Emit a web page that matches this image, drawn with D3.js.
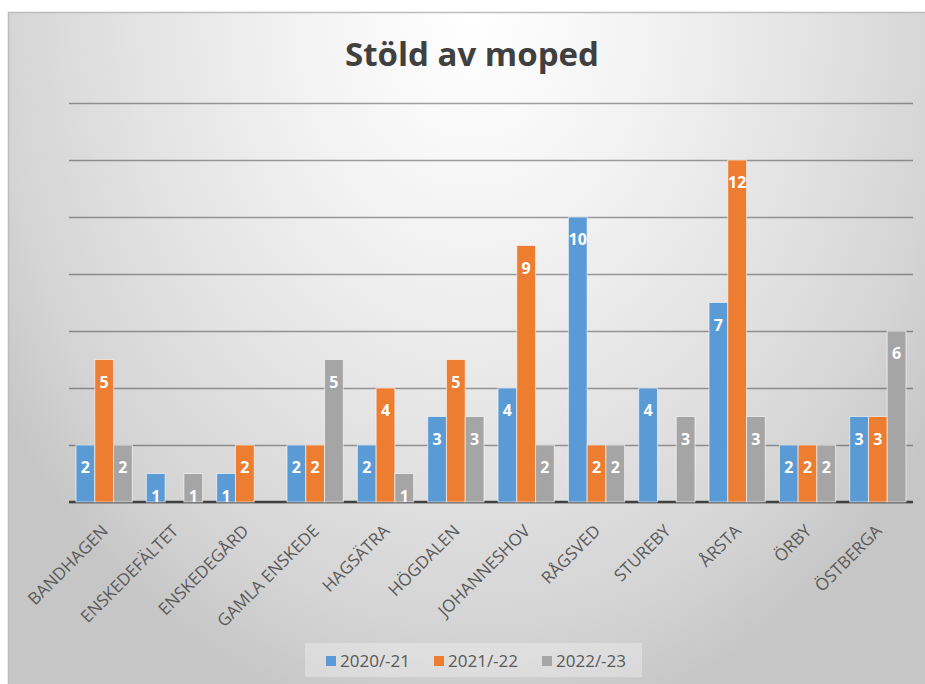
<!DOCTYPE html>
<html>
<head>
<meta charset="utf-8">
<script src="https://cdn.jsdelivr.net/npm/d3@7"></script>
<style>
  body { margin: 0; background: #fff; overflow: hidden; }
  svg { display: block; }
</style>
</head>
<body>
<div id="chart"></div>
<script>
// Data
var categories = ["BANDHAGEN", "ENSKEDEFÄLTET", "ENSKEDEGÅRD", "GAMLA ENSKEDE", "HAGSÄTRA", "HÖGDALEN",
                  "JOHANNESHOV", "RÅGSVED", "STUREBY", "ÅRSTA", "ÖRBY", "ÖSTBERGA"];
var seriesNames = ["2020/-21", "2021/-22", "2022/-23"];
var season1 = [2, 1, 1, 2, 2, 3, 4, 10, 4, 7, 2, 3];
var season2 = [5, null, 2, 2, 4, 5, 9, 2, null, 12, 2, 3];
var season3 = [2, 1, null, 5, 1, 3, 2, 2, 3, 3, 2, 6];
var yTicks = [0, 2, 4, 6, 8, 10, 12, 14];
var colors = ["#5b9bd5", "#ed7d31", "#a5a5a5"];

var seriesValues = [season1, season2, season3];

var W = 925, H = 684;
var margin = {top: 103, right: 12, bottom: 182, left: 69},
    width = W - margin.left - margin.right,
    height = H - margin.top - margin.bottom;

var svg = d3.select("#chart").append("svg")
    .attr("width", W)
    .attr("height", H);

// background gradient like the office chart style
var defs = svg.append("defs");
var grad = defs.append("radialGradient")
    .attr("id", "bg")
    .attr("gradientUnits", "userSpaceOnUse")
    .attr("cx", 0).attr("cy", 0).attr("r", 1)
    .attr("gradientTransform", "translate(472,20) scale(560,720)");
grad.append("stop").attr("offset", "0").attr("stop-color", "#ffffff");
grad.append("stop").attr("offset", "0.3").attr("stop-color", "#f3f3f3");
grad.append("stop").attr("offset", "0.6").attr("stop-color", "#e3e3e3");
grad.append("stop").attr("offset", "0.85").attr("stop-color", "#d4d4d4");
grad.append("stop").attr("offset", "1").attr("stop-color", "#c6c6c6");

svg.append("rect")
    .attr("x", 8.5).attr("y", 12.5)
    .attr("width", W + 20).attr("height", H + 20)
    .attr("fill", "url(#bg)")
    .attr("stroke", "#bdbdbd")
    .attr("stroke-width", 1.5);

// Title
svg.append("text")
    .attr("x", 472).attr("y", 66)
    .attr("text-anchor", "middle")
    .style("font-family", "'Open Sans', sans-serif")
    .style("font-weight", "bold")
    .style("font-size", "33px")
    .attr("fill", "#404040")
    .text("Stöld av moped");

var g = svg.append("g")
    .attr("transform", "translate(" + margin.left + "," + margin.top + ")");

// Scales
var x0 = d3.scaleBand().domain(categories).range([0, width]).paddingInner(0.2).paddingOuter(0.1);
var x1 = d3.scaleBand().domain(d3.range(seriesNames.length)).range([0, x0.bandwidth()]);
var y = d3.scaleLinear().domain([0, 14]).range([height, 0]);

// gridlines
var yAxis = d3.axisLeft(y).tickValues(yTicks).tickSize(-width).tickFormat("");
g.append("g")
    .attr("class", "grid")
    .call(yAxis)
    .call(function(s) {
        s.select(".domain").remove();
        s.selectAll(".tick line")
            .attr("stroke", "rgba(0,0,0,0.36)")
            .attr("stroke-width", 1.5);
    });

// x axis line
g.append("line")
    .attr("x1", 0).attr("x2", width)
    .attr("y1", y(0)).attr("y2", y(0))
    .attr("stroke", "#404040")
    .attr("stroke-width", 2.6);

// Bars
var rows = [];
categories.forEach(function(c, i) {
    seriesValues.forEach(function(vals, s) {
        if (vals[i] != null) rows.push({cat: c, s: s, v: vals[i]});
    });
});

g.selectAll(".bar")
    .data(rows)
    .enter().append("rect")
    .attr("class", "bar")
    .attr("x", function(d) { return x0(d.cat) + x1(d.s); })
    .attr("y", function(d) { return y(d.v); })
    .attr("width", x1.bandwidth())
    .attr("height", function(d) { return y(0) - y(d.v); })
    .attr("fill", function(d) { return colors[d.s]; })
    .attr("stroke", "rgba(255,255,255,0.6)")
    .attr("stroke-width", 1);

// value labels (inside end)
g.selectAll(".val")
    .data(rows)
    .enter().append("text")
    .attr("class", "val")
    .attr("x", function(d) { return x0(d.cat) + x1(d.s) + x1.bandwidth() / 2; })
    .attr("y", function(d) { return y(d.v) + 28; })
    .attr("text-anchor", "middle")
    .style("font-family", "'Open Sans', sans-serif")
    .style("font-weight", "bold")
    .style("font-size", "16px")
    .attr("fill", "#ffffff")
    .text(function(d) { return d.v; });

// category labels, rotated
var xAxis = d3.axisBottom(x0).tickSize(0).tickPadding(0);
g.append("g")
    .attr("class", "x axis")
    .attr("transform", "translate(0," + height + ")")
    .call(xAxis)
    .call(function(s) {
        s.select(".domain").remove();
        s.selectAll(".tick text")
            .attr("x", 0).attr("y", 0).attr("dy", 0)
            .attr("transform", "translate(5,30) rotate(-45)")
            .attr("text-anchor", "end")
            .style("font-family", "'Open Sans', sans-serif")
            .style("font-size", "17px")
            .attr("fill", "#595959");
    });

// Legend
var legend = svg.append("g").attr("class", "legend");
legend.append("rect")
    .attr("x", 305).attr("y", 643)
    .attr("width", 337).attr("height", 34)
    .attr("fill", "rgba(255,255,255,0.3)");

var item = legend.selectAll(".item")
    .data(seriesNames)
    .enter().append("g")
    .attr("class", "item")
    .attr("transform", function(d, i) { return "translate(" + (326 + i * 108) + ",0)"; });
item.append("rect")
    .attr("x", 0).attr("y", 656)
    .attr("width", 10).attr("height", 10)
    .attr("fill", function(d, i) { return colors[i]; });
item.append("text")
    .attr("x", 14).attr("y", 667)
    .style("font-family", "'Open Sans', sans-serif")
    .style("font-size", "17px")
    .attr("fill", "#595959")
    .text(function(d) { return d; });
</script>
</body>
</html>
